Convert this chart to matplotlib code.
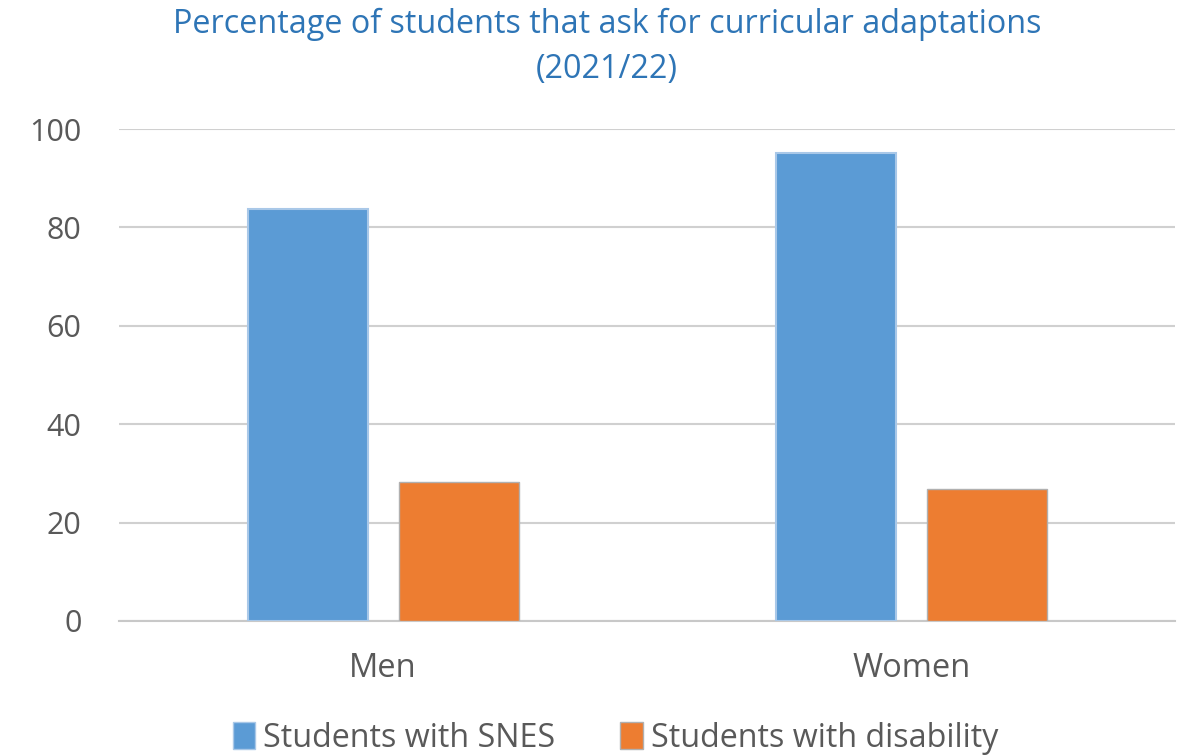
import matplotlib
matplotlib.use("Agg")
import matplotlib.pyplot as plt
from matplotlib.patches import Patch
import numpy as np

categories = ["Men", "Women"]
series_names = ["Students with SNES", "Students with disability"]
snes = [83.7, 95.1]
disability = [28.2, 26.8]
yticks = [0, 20, 40, 60, 80, 100]

plt.rcParams['font.family'] = ['Open Sans', 'DejaVu Sans']

fig = plt.figure(figsize=(11.79, 7.55), dpi=100)
ax = fig.add_axes([0.101, 0.1775, 0.896, 0.6515])

x = np.arange(len(categories))
w = 0.227
off = 0.143
c1, c2 = "#5B9BD5", "#ED7D31"
ax.bar(x - off, snes, w, color=c1, edgecolor="#A9C8E8", linewidth=1.5, zorder=3)
ax.bar(x + off, disability, w, color=c2, edgecolor="#B0B0B0", linewidth=1.0, zorder=3)

ax.set_xlim(-0.5, 1.5)
ax.set_ylim(0, 100)
ax.set_yticks(yticks)
ax.set_yticklabels([str(v) for v in yticks])
ax.set_xticks(x)
ax.set_xticklabels(categories)
ax.grid(axis='y', color="#D0D0D0", linewidth=1.5, zorder=0)
for s in ["top", "right", "left"]:
    ax.spines[s].set_visible(False)
ax.spines["bottom"].set_color("#C8C8C8")
ax.spines["bottom"].set_linewidth(1.5)
ax.tick_params(axis='y', length=0, labelsize=22, labelcolor="#595959", pad=27)
ax.tick_params(axis='x', length=0, labelsize=23.5, labelcolor="#595959", pad=22)

fig.text(0.515, 0.99, "Percentage of students that ask for curricular adaptations\n(2021/22)",
         ha="center", va="top", fontsize=23.3, color="#2E75B6", linespacing=1.5)

handles = [Patch(facecolor=c1, edgecolor="#A9C8E8"), Patch(facecolor=c2, edgecolor="#B0B0B0")]
fig.legend(handles, series_names, loc="center", bbox_to_anchor=(0.522, 0.022), ncol=2,
           frameon=False, fontsize=23.2, labelcolor="#595959", handlelength=0.7,
           handleheight=0.9, handletextpad=0.25, columnspacing=2.0)

fig.savefig("out.png", dpi=100)
